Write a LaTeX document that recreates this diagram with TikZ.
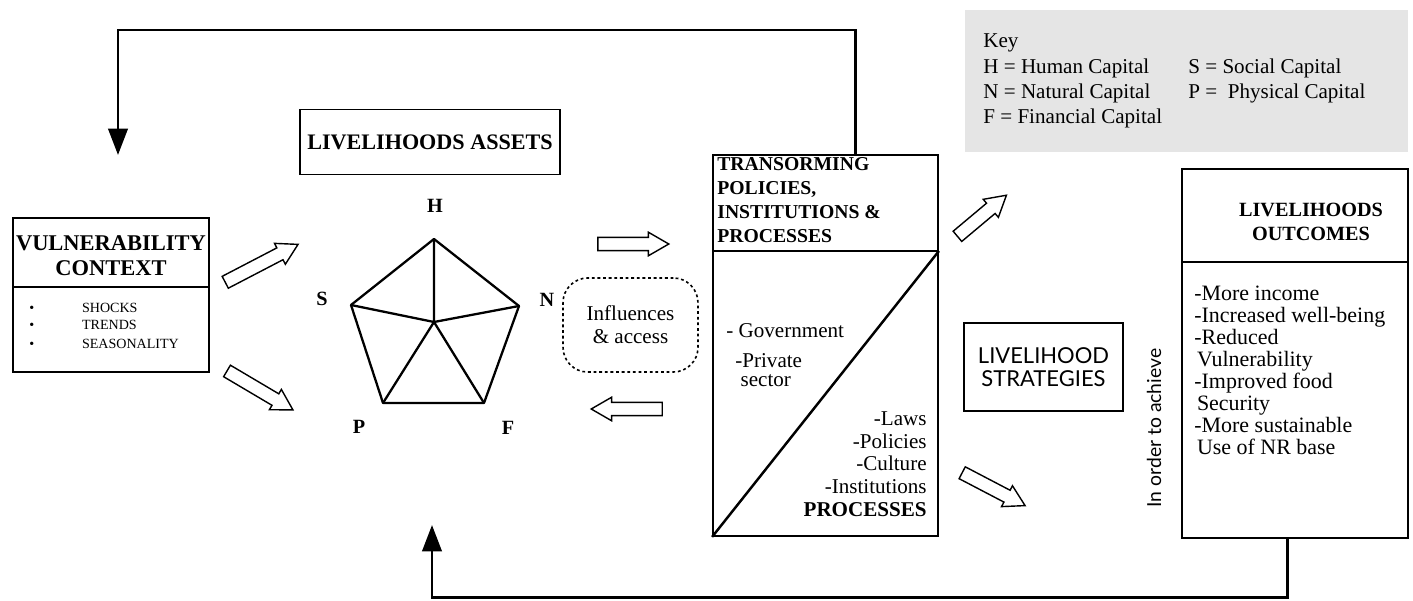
\documentclass[tikz,border=0pt]{standalone}
\usepackage{fontspec}
\setmainfont{Liberation Serif}
\newfontfamily\stratfont{Lato}
\usetikzlibrary{arrows.meta,shapes.arrows}

\tikzset{
    boxframe/.style={draw,line width=1.1pt},
    hollow/.style={draw,single arrow,line width=0.8pt,inner xsep=0pt,inner ysep=3.4pt,minimum width=0pt,single arrow head extend=2.9pt,single arrow tip angle=60,minimum height=#1},
    feedback/.style={line width=1.7pt},
    pent/.style={line width=1.3pt,line join=round},
    letter/.style={font=\bfseries\fontsize{11.5}{13}\selectfont}
}

\begin{document}
\begin{tikzpicture}[x=0.02cm,y=-0.02cm,every node/.style={inner sep=0pt}]
\useasboundingbox (0,0) rectangle (1413,601);

%%% KEY %%%
\node[fill=black!10,minimum width=252pt,minimum height=80.8pt] (key) at (1186.5,81) {};
\node[anchor=base west,font=\fontsize{12}{14}\selectfont] (keyt) at (983,48) {Key};
\node[anchor=base west,font=\fontsize{12}{14}\selectfont] (keyH) at (983,74) {H = Human Capital};
\node[anchor=base west,font=\fontsize{12}{14}\selectfont] (keyN) at (983,99) {N = Natural Capital};
\node[anchor=base west,font=\fontsize{12}{14}\selectfont] (keyF) at (983,124) {F = Financial Capital};
\node[anchor=base west,font=\fontsize{12}{14}\selectfont] (keyS) at (1188,74) {S = Social Capital};
\node[anchor=base west,font=\fontsize{12}{14}\selectfont] (keyP) at (1188,99) {P =\enspace Physical Capital};

%%% VULNERABILITY CONTEXT %%%
\node[boxframe,minimum width=111.5pt,minimum height=87.6pt] (vc) at (111,295) {};
\coordinate (vcdiv) at (0,287);
\draw[line width=1.1pt] (vc.west |- vcdiv) -- (vc.east |- vcdiv); % divider
\node[align=center,font=\bfseries\fontsize{12.8}{14.2}\selectfont] (vctitle) at (111,256) {VULNERABILITY\\CONTEXT};
\node[anchor=west,font=\fontsize{8}{10}\selectfont] (shocks) at (29,308) {\makebox[30pt][l]{\textbullet}SHOCKS};
\node[anchor=west,font=\fontsize{8}{10}\selectfont] (trends) at (29,325) {\makebox[30pt][l]{\textbullet}TRENDS};
\node[anchor=west,font=\fontsize{8}{10}\selectfont] (seasons) at (29,344) {\makebox[30pt][l]{\textbullet}SEASONALITY};

%%% LIVELIHOODS ASSETS %%%
\node[boxframe,minimum width=148pt,minimum height=37pt,font=\bfseries\fontsize{12.6}{14}\selectfont] (la) at (430,142) {LIVELIHOODS ASSETS};
\coordinate (H) at (434,239); % pentagon corners
\coordinate (N) at (519,306);
\coordinate (F) at (484,403);
\coordinate (P) at (383,403);
\coordinate (S) at (351,305);
\coordinate (C) at (434,322); % centre
\draw[pent] (H) -- (N) -- (F) -- (P) -- (S) -- cycle;
\draw[pent] (C) -- (H) (C) -- (N) (C) -- (F) (C) -- (P) (C) -- (S);
\node[letter] (Hl) at (435,206) {H};
\node[letter] (Nl) at (547,300) {N};
\node[letter] (Fl) at (508,428) {F};
\node[letter] (Pl) at (359,427) {P};
\node[letter] (Sl) at (322,299) {S};

%%% INFLUENCES %%%
\node[draw,dash pattern=on 1.6pt off 1.6pt,line width=0.9pt,rounded corners=14pt,minimum width=76.8pt,minimum height=53.5pt,align=center,font=\fontsize{12}{13}\selectfont] (ia) at (630.5,325) {Influences\\\& access};

%%% TRANSFORMING STRUCTURES %%%
\node[boxframe,minimum width=128pt,minimum height=216.8pt] (tpp) at (825.5,345.5) {};
\coordinate (tppdiv) at (0,251);
\draw[line width=1.1pt] (tpp.west |- tppdiv) -- (tpp.east |- tppdiv); % divider
\draw[line width=1.4pt] (tpp.south west) -- (tpp.east |- tppdiv); % diagonal
\node[anchor=north west,align=left,font=\bfseries\fontsize{11.2}{13.6}\selectfont] (tpptitle) at (717,157) {TRANSORMING\\POLICIES,\\INSTITUTIONS \&\\PROCESSES};
\node[anchor=west,font=\fontsize{12}{14}\selectfont] (gov) at (726,331) {- Government};
\node[anchor=north west,align=left,font=\fontsize{12}{10.8}\selectfont] (priv) at (735,353) {-Private\\\hspace*{3pt}sector};
\node[anchor=north east,align=right,font=\fontsize{12}{13}\selectfont] (proc) at (927,411) {-Laws\\-Policies\hspace*{1.5pt}\\-Culture\\-Institutions\hspace*{11pt}\\\textbf{PROCESSES}};

%%% HOLLOW ARROWS %%%
\node[hollow=46.7pt,rotate=27.5] (a1) at (256.5,266) {};
\node[hollow=43.6pt,rotate=-30.6] (a2) at (255,387.5) {};
\node[hollow=40.4pt] (a3) at (627.5,244) {};
\node[hollow=40.4pt,rotate=180] (a4) at (632.5,409) {};
\node[hollow=36.4pt,rotate=40] (a5) at (977.5,219.5) {};
\node[hollow=40.4pt,rotate=-27.6] (a6) at (988.5,486.5) {};

%%% STRATEGIES AND OUTCOMES %%%
\node[boxframe,minimum width=90.5pt,minimum height=50pt,align=center,font=\stratfont\fontsize{12.5}{13}\selectfont] (ls) at (1043.5,367) {LIVELIHOOD\\STRATEGIES};
\node[rotate=90,font=\stratfont\fontsize{11}{13}\selectfont] (ioa) at (1154,428) {In order to achieve};
\node[boxframe,minimum width=128.6pt,minimum height=210pt] (lo) at (1295,353.5) {};
\coordinate (lodiv) at (0,262);
\draw[line width=1.1pt] (lo.west |- lodiv) -- (lo.east |- lodiv); % divider
\node[align=center,font=\bfseries\fontsize{11.5}{13.2}\selectfont] (lotitle) at (1311,222) {LIVELIHOODS\\OUTCOMES};
\node[anchor=north west,align=left,font=\fontsize{12.5}{12.5}\selectfont] (lolist) at (1194,286) {-More income\\-Increased well-being\\-Reduced\\\hspace*{1.5pt}Vulnerability\\-Improved food\\\hspace*{1.5pt}Security\\-More sustainable\\\hspace*{1.5pt}Use of NR base};

%%% FEEDBACK LINES %%%
\coordinate (topleft) at (118,30);
\coordinate (VCtip) at (118,155);
\draw[feedback,-{Triangle[length=15pt,width=11pt]}] ([xshift=16.8pt]tpp.north) |- (topleft) -- (VCtip); % top loop
\coordinate (LAtip) at (432,525);
\draw[feedback,-{Triangle[length=15pt,width=11pt]}] ([xshift=-4.5pt]lo.south) -- ++(0,59) -| (LAtip); % bottom loop
\end{tikzpicture}
\end{document}
